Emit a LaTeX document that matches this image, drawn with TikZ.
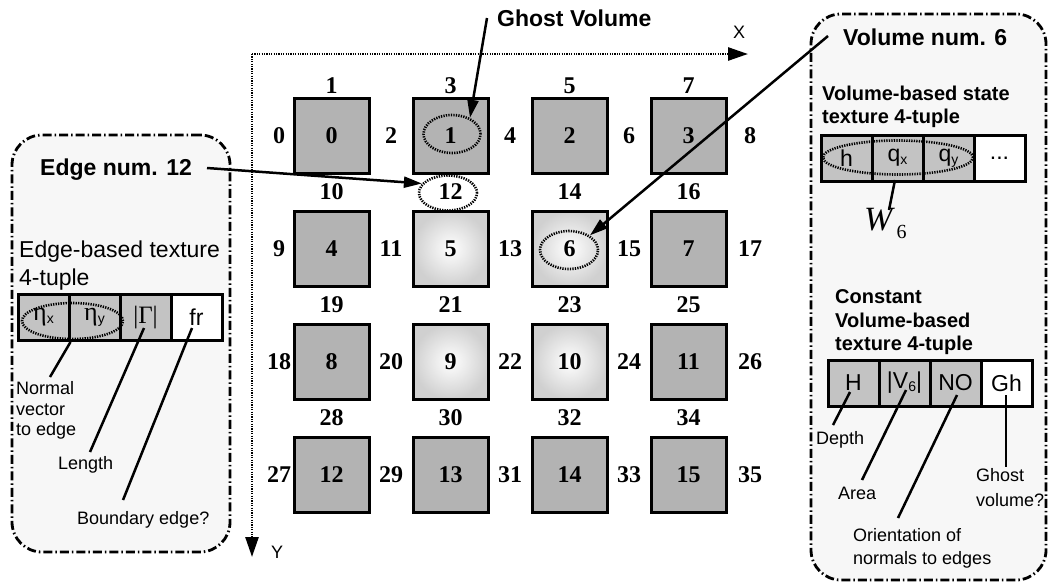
\documentclass[tikz,border=0pt]{standalone}
\usepackage{fontspec}
\setmainfont{Liberation Sans}
\newfontfamily\tnr{Liberation Serif}
\usetikzlibrary{arrows.meta,shapes.geometric,calc}
\definecolor{sqgray}{HTML}{B3B3B3}
\definecolor{cellgray}{HTML}{C3C3C3}
\definecolor{panelbg}{HTML}{F7F7F7}
\definecolor{lightedge}{HTML}{D0D0D0}
\newcommand\myfs[2]{\fontsize{#1}{#2}\selectfont}
\newcommand\lowsub[1]{\raisebox{-3pt}{\myfs{14}{14}#1}}
\begin{document}
\begin{tikzpicture}[x=1pt,y=-1pt,
 sqbox/.style={draw,line width=3pt,minimum size=75pt,inner sep=0pt,font=\tnr\bfseries\myfs{24}{24}},
 dark/.style={sqbox,fill=sqgray},
 light/.style={sqbox,inner color=white,outer color=lightedge},
 num/.style={inner sep=0pt,font=\tnr\bfseries\myfs{24}{24}},
 panel/.style={draw,line width=2.8pt,rounded corners=30pt,fill=panelbg,dash pattern=on 9pt off 3pt on 1.5pt off 3pt,inner sep=0pt},
 cell/.style={draw,line width=3pt,minimum width=51pt,minimum height=46pt,inner sep=0pt,fill=cellgray,font=\myfs{23}{23}},
 wcell/.style={cell,fill=white},
 dotell/.style={ellipse,draw,line width=2.6pt,dash pattern=on 1.3pt off 1.2pt,inner sep=0pt},
 axis/.style={line width=2.6pt,dash pattern=on 1.2pt off 1.2pt,-{Triangle[length=20pt,width=13pt]}},
 arr/.style={line width=2.5pt,-{Triangle[length=18pt,width=11pt]}},
 lead/.style={line width=2.5pt},
 bigtxt/.style={inner sep=0pt,font=\bfseries\myfs{23}{23}},
 headtxt/.style={inner sep=0pt,font=\bfseries\myfs{20}{23.5},align=left},
 notetxt/.style={inner sep=0pt,font=\myfs{18}{20.5},align=left},
 axtxt/.style={inner sep=0pt,font=\myfs{18}{18}},
]
\useasboundingbox (0,0) rectangle (1048,584);
\fill[white] (0,0) rectangle (1048,584);

% axes
\coordinate (O) at (252,54);
\coordinate (Xe) at (748,54);
\coordinate (Ye) at (252,557);
\draw[axis] (O) -- (Xe);
\draw[axis] (O) -- (Ye);
\node[axtxt,anchor=base] (xlbl) at (739,38.5) {X};
\node[axtxt,anchor=base] (ylbl) at (277,558) {Y};

% volumes
\foreach \k/\s in {0/dark,1/dark,2/dark,3/dark,4/dark,5/light,6/light,7/dark,8/dark,9/light,10/light,11/dark,12/dark,13/dark,14/dark,15/dark}{
  \pgfmathsetmacro\cx{331.5+119*mod(\k,4)}
  \pgfmathsetmacro\cy{135.5+113*floor(\k/4)}
  \node[\s] (v\k) at (\cx,\cy) {\k};
}
% horizontal edge labels
\foreach \j in {0,...,3}{
  \foreach \i in {0,...,3}{
    \pgfmathtruncatemacro\n{9*\j+1+2*\i}
    \pgfmathsetmacro\lx{331.5+119*\i}
    \pgfmathsetmacro\ly{ifthenelse(\j==0,86,79+113*\j)}
    \node[num] (eh\n) at (\lx,\ly) {\n};
  }
}
% vertical edge labels
\foreach \j in {0,...,3}{
  \foreach \i in {0,...,4}{
    \pgfmathtruncatemacro\n{9*\j+2*\i}
    \pgfmathsetmacro\lx{ifthenelse(\i==0,279,ifthenelse(\i==4,750,391+119*(\i-1)))}
    \pgfmathsetmacro\ly{135.5+113*\j}
    \node[num] (ev\n) at (\lx,\ly) {\n};
  }
}
% dotted highlights in the grid
\node[dotell,minimum width=57pt,minimum height=38pt] (e1) at (452,134) {};
\node[dotell,minimum width=58pt,minimum height=35pt] (e12) at (448,193) {};
\node[dotell,minimum width=58pt,minimum height=38pt] (e6) at (569,250) {};

% left panel
\node[panel,minimum width=218pt,minimum height=417pt] (lpanel) at (121,343.5) {};
\node[bigtxt,anchor=base west] (edgelbl) at (40,175.3) {Edge num. 12};
\node[inner sep=0pt,font=\myfs{23}{28},align=left,anchor=north west] (edgetup) at (19,241) {Edge-based texture\\4-tuple};
\node[cell] (lc1) at (43.5,317.5) {{\tnr\myfs{26}{26}η}\lowsub{x}};
\node[cell] (lc2) at (94.5,317.5) {{\tnr\myfs{26}{26}η}\lowsub{y}};
\node[cell] (lc3) at (145.5,317.5) {{\tnr\myfs{25}{25}|Γ|}};
\node[wcell] (lc4) at (196.5,317.5) {fr};
\node[dotell,minimum width=101pt,minimum height=36pt] (lell) at (72.5,321) {};
\node[notetxt,anchor=north west] (nrm) at (16,381.5) {Normal\\vector\\to edge};
\node[notetxt,anchor=base west] (len) at (58,469.5) {Length};
\node[notetxt,anchor=base west] (bnd) at (77,524.5) {Boundary edge?};
\coordinate (n1e) at (50,377);
\coordinate (l2s) at (144,328);
\coordinate (l2e) at (90,452);
\coordinate (l3s) at (192,328);
\coordinate (l3e) at (123,500);
\draw[lead] (lc1.south east) -- (n1e);
\draw[lead] (l2s) -- (l2e);
\draw[lead] (l3s) -- (l3e);

% right panel
\node[panel,minimum width=235pt,minimum height=566pt] (rpanel) at (928.5,297) {};
\node[bigtxt,anchor=base west] (vollbl) at (843,45.3) {Volume num. 6};
\node[headtxt,anchor=north west] (vstate) at (822,85.8) {Volume-based state\\texture 4-tuple};
\node[cell] (rc1) at (846.5,158) {h};
\node[cell] (rc2) at (897.5,158) {q\lowsub{x}};
\node[cell] (rc3) at (948.5,158) {q\lowsub{y}};
\node[wcell] (rc4) at (999.5,158) {...};
\node[dotell,minimum width=150pt,minimum height=34pt] (rell) at (898,157.5) {};
\coordinate (wse) at (895,180);
\coordinate (wee) at (889,210);
\draw[lead] (wse) -- (wee);
\node[inner sep=0pt,anchor=base west] (w6) at (864,230) {{\tnr\itshape\myfs{34}{34}W}\kern4pt\raisebox{-8pt}{\tnr\myfs{20}{20}6}};
\node[headtxt,anchor=north west] (cstate) at (835,289.8) {Constant\\Volume-based\\texture 4-tuple};
\node[cell] (kc1) at (853.5,383) {H};
\node[cell] (kc2) at (904.5,383) {|V\lowsub{6}|};
\node[cell] (kc3) at (955.5,383) {NO};
\node[wcell] (kc4) at (1006.5,383) {Gh};
\coordinate (d1s) at (850,392);
\coordinate (d1e) at (833,425);
\coordinate (d2s) at (906,390);
\coordinate (d2e) at (862,480);
\coordinate (d3s) at (957,395);
\coordinate (d3e) at (898,518);
\coordinate (d4s) at (1006,395);
\coordinate (d4e) at (1006,467);
\draw[lead] (d1s) -- (d1e);
\draw[lead] (d2s) -- (d2e);
\draw[lead] (d3s) -- (d3e);
\draw[lead] (d4s) -- (d4e);
\node[notetxt,anchor=base west] (dep) at (816,444.5) {Depth};
\node[notetxt,anchor=base west] (area) at (838,499.5) {Area};
\node[notetxt,anchor=north west,font=\myfs{18}{23}] (orient) at (853,528.4) {Orientation of\\normals to edges};
\node[notetxt,anchor=north west,font=\myfs{18}{25}] (ghv) at (976,468.5) {Ghost\\volume?};

% callouts
\node[bigtxt,anchor=base west] (ghostlbl) at (497,26) {Ghost Volume};
\coordinate (gs) at (487,18);
\coordinate (es) at (207,168);
\coordinate (vs) at (828,36);
\draw[arr] (gs) -- (e1.42);
\draw[arr] (es) -- (e12.160);
\draw[arr] (vs) -- (e6.35);
\end{tikzpicture}
\end{document}
